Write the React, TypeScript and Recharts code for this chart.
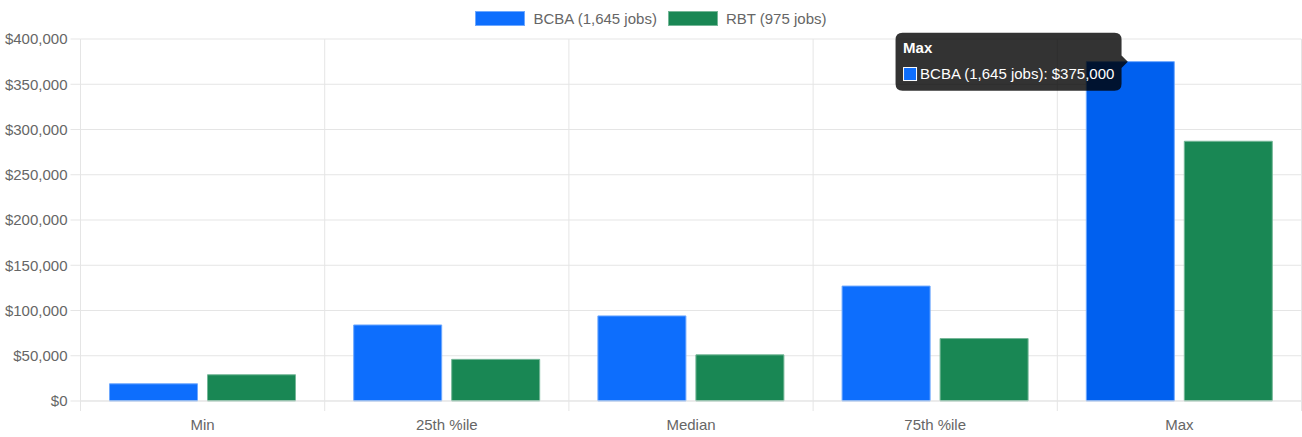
import React from 'react';
import { BarChart, Bar, XAxis, YAxis, CartesianGrid, Legend, Cell } from 'recharts';

const categories = ['Min', '25th %ile', 'Median', '75th %ile', 'Max'];
const bcbaValues = [19000, 84000, 94000, 127000, 375000];
const rbtValues = [29000, 46000, 51000, 69000, 287000];
const yTicks = [0, 50000, 100000, 150000, 200000, 250000, 300000, 350000, 400000];
const seriesNames = ['BCBA (1,645 jobs)', 'RBT (975 jobs)'];
const HOVER_INDEX = 4;

const data = categories.map((c, i) => ({ category: c, bcba: bcbaValues[i], rbt: rbtValues[i] }));

const W = 1302;
const H = 437;
const MARGIN = { top: 0, right: 0.5, bottom: 6, left: 0.5 };
const Y_W = 80;
const PLOT_W = W - MARGIN.left - MARGIN.right - Y_W;
const BAND = PLOT_W / categories.length;
const GRID = '#e5e5e5';
const TEXT = '#666';
const BLUE = '#0d6efd';
const BLUE_HOVER = '#0060ef';
const GREEN = '#198754';
const TICK_LEN = 10;
const TICK_PAD = 8;

const fmt = (v: number) => '$' + v.toLocaleString('en-US');

function XTick(props: any) {
  const { x, y, payload, index } = props;
  const y1 = y - TICK_PAD - TICK_LEN;
  const y2 = y - TICK_PAD;
  return (
    <g>
      <line x1={x - BAND / 2} x2={x - BAND / 2} y1={y1} y2={y2} stroke={GRID} />
      {index === categories.length - 1 && (
        <line x1={x + BAND / 2} x2={x + BAND / 2} y1={y1} y2={y2} stroke={GRID} />
      )}
      <text x={x} y={y} dy="0.71em" textAnchor="middle" fill={TEXT} fontSize={15}>
        {payload.value}
      </text>
    </g>
  );
}

function LegendContent(props: any) {
  const payload = props.payload || [];
  return (
    <div style={{ height: 39, boxSizing: 'border-box', paddingTop: 11, display: 'flex', justifyContent: 'center' }}>
      {payload.map((p: any, i: number) => (
        <div key={i} style={{ display: 'flex', alignItems: 'center', height: 15, marginRight: i < payload.length - 1 ? 11 : 0 }}>
          <div style={{ width: 50, height: 15, background: p.color, boxSizing: 'border-box', border: '1px solid ' + (i === 0 ? '#6ea8fe' : '#75b798'), marginRight: 8 }} />
          <span style={{ fontSize: 15, color: TEXT, lineHeight: '15px', whiteSpace: 'nowrap' }}>{p.value}</span>
        </div>
      ))}
    </div>
  );
}

function HoverTip(props: any) {
  const { index, value } = props;
  if (index !== HOVER_INDEX) return null;
  const vb = props.viewBox || {};
  const x = props.x ?? vb.x;
  const y = props.y ?? vb.y;
  const width = props.width ?? vb.width;
  const ax = x + width / 2;
  const ay = y;
  const boxW = 226;
  const boxH = 58;
  const right = ax - 2.5 - 6.25;
  const left = right - boxW;
  const top = ay - boxH / 2;
  const r = 7;
  const path =
    `M${left + r},${top} H${right - r} Q${right},${top} ${right},${top + r} ` +
    `V${ay - 6.25} L${ax - 2.5},${ay} L${right},${ay + 6.25} ` +
    `V${top + boxH - r} Q${right},${top + boxH} ${right - r},${top + boxH} ` +
    `H${left + r} Q${left},${top + boxH} ${left},${top + boxH - r} ` +
    `V${top + r} Q${left},${top} ${left + r},${top} Z`;
  return (
    <g>
      <path d={path} fill="rgba(0,0,0,0.8)" />
      <text x={left + 7.5} y={top + 20.7} fill="#fff" fontSize={15} fontWeight="bold">
        {categories[index]}
      </text>
      <rect x={left + 7.5} y={top + 34.4} width={14} height={14} fill="#fff" />
      <rect x={left + 8.5} y={top + 35.4} width={12} height={12} fill={BLUE} />
      <text x={left + 24.5} y={top + 46.7} fill="#fff" fontSize={15}>
        {seriesNames[0] + ': ' + fmt(value)}
      </text>
    </g>
  );
}

export default function App() {
  return (
    <div style={{ position: 'absolute', left: 0, top: 0, width: W, height: H, background: '#fff', fontFamily: '"Liberation Sans", Arial, Helvetica, sans-serif' }}>
      <BarChart width={W} height={H} data={data} margin={MARGIN} barGap={10}>
        <CartesianGrid
          stroke={GRID}
          verticalCoordinatesGenerator={(p: any) => {
            const off = p.offset;
            const n = categories.length;
            return Array.from({ length: n + 1 }, (_, i) => off.left + (i * off.width) / n);
          }}
        />
        <XAxis
          dataKey="category"
          height={30}
          axisLine={{ stroke: GRID }}
          tickLine={false}
          tickSize={TICK_LEN}
          tickMargin={TICK_PAD}
          tick={<XTick />}
          interval={0}
        />
        <YAxis
          width={Y_W}
          domain={[0, 400000]}
          ticks={yTicks}
          tickFormatter={fmt}
          tick={{ fill: TEXT, fontSize: 15 }}
          tickSize={10}
          tickMargin={3}
          axisLine={{ stroke: GRID }}
          tickLine={{ stroke: GRID }}
          interval={0}
        />
        <Legend verticalAlign="top" content={<LegendContent />} wrapperStyle={{ top: 0 }} />
        <Bar dataKey="bcba" name={seriesNames[0]} fill={BLUE} stroke="#6ea8fe" strokeWidth={1} barSize={88} isAnimationActive={false} label={<HoverTip />}>
          {data.map((_, i) => (
            <Cell key={i} fill={i === HOVER_INDEX ? BLUE_HOVER : BLUE} />
          ))}
        </Bar>
        <Bar dataKey="rbt" name={seriesNames[1]} fill={GREEN} stroke="#75b798" strokeWidth={1} barSize={88} isAnimationActive={false} />
      </BarChart>
    </div>
  );
}
